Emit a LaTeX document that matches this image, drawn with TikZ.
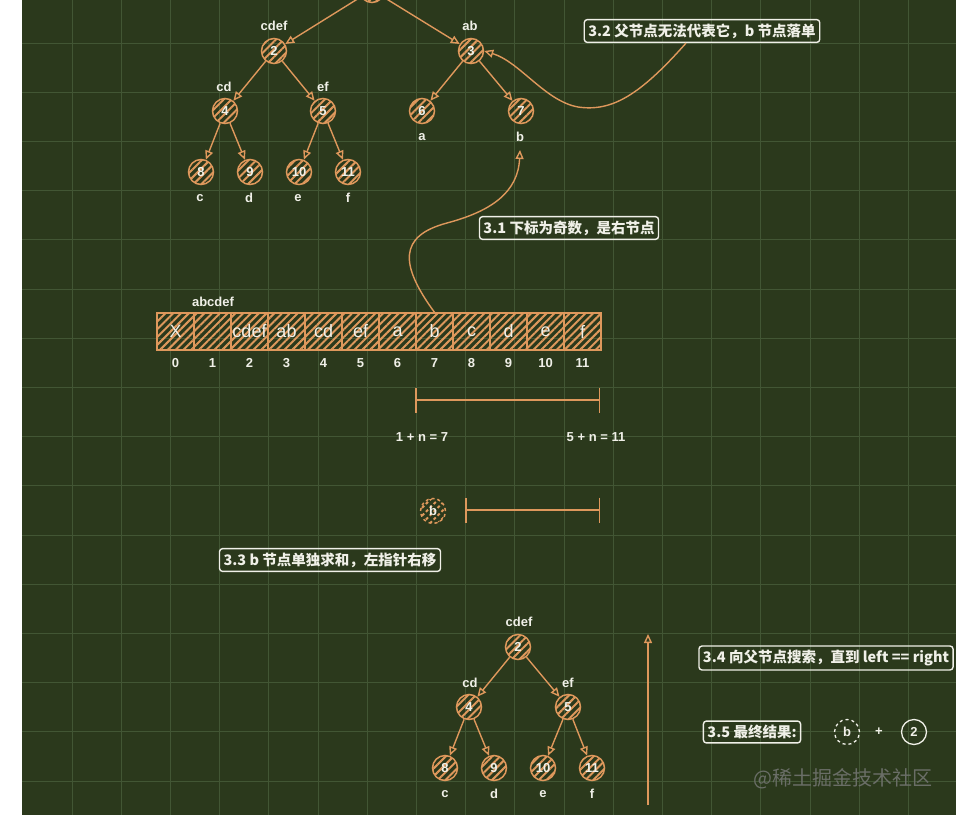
\documentclass[tikz,border=0pt]{standalone}
\usepackage{fontspec}
\setmainfont{Liberation Sans}
\newfontfamily\cjk{Noto Sans CJK SC}
\usetikzlibrary{arrows.meta,patterns.meta}

\definecolor{board}{RGB}{43,57,28}
\definecolor{gridln}{RGB}{66,86,52}
\definecolor{chalk}{RGB}{222,152,92}
\definecolor{paper}{RGB}{240,240,232}

\begin{document}
\begin{tikzpicture}[
        x=1pt, y=-1pt,
        font=\bfseries\fontsize{13}{15}\selectfont,
        hatch/.style={pattern={Lines[angle=45,distance=5.5pt,line width=2pt]}, pattern color=chalk},
        tnode/.style={circle, draw=chalk, line width=1.5pt, minimum size=25pt, inner sep=0pt, hatch, text=paper},
        ring/.style={circle, draw=paper, line width=1.3pt, minimum size=25pt, inner sep=0pt, text=paper},
        tag/.style={text=paper, inner sep=1pt},
        cell/.style={draw=chalk, line width=1.3pt, minimum width=37pt, minimum height=37pt, inner sep=0pt, hatch, text=paper, font=\fontsize{18}{20}\selectfont},
        notebox/.style={draw=paper, line width=1.4pt, rounded corners=3pt, text=paper, inner sep=4pt, font=\cjk\bfseries\fontsize{14.5}{16}\selectfont},
        edge/.style={draw=chalk, line width=1.4pt, -{Triangle[open,length=9pt,width=8pt]}},
        span/.style={draw=chalk, line width=1.5pt, {Bar[width=25pt]}-{Bar[width=25pt]}}
    ]
        \useasboundingbox (0,0) rectangle (965,821);
        \clip (0,0) rectangle (965,821);
        \fill[white] (0,0) rectangle (965,821);
        \fill[board] (22,0) rectangle (956,815);
        \foreach \gx in {0,...,17}
            \draw[gridln, line width=0.8pt] (72+49.2*\gx,0) -- (72+49.2*\gx,815);
        \foreach \gy in {0,...,15}
            \draw[gridln, line width=0.8pt] (22,43+49.2*\gy) -- (956,43+49.2*\gy);

        % top tree
        \node[tnode] (t1) at (372,-10) {};
        \node[tnode] (t2) at (274,51) {2};
        \node[tnode] (t3) at (471,51) {3};
        \node[tnode] (t4) at (225,111) {4};
        \node[tnode] (t5) at (323,111) {5};
        \node[tnode] (t6) at (422,111) {6};
        \node[tnode] (t7) at (521,111) {7};
        \node[tnode] (t8) at (201,172) {8};
        \node[tnode] (t9) at (250,172) {9};
        \node[tnode] (t10) at (299,172) {10};
        \node[tnode] (t11) at (348,172) {11};

        \node[tag] (l2) at (274,26) {cdef};
        \node[tag] (l3) at (470,26) {ab};
        \node[tag] (l4) at (224,87) {cd};
        \node[tag] (l5) at (323,87) {ef};
        \node[tag] (l6) at (422,137) {a};
        \node[tag] (l7) at (520,137) {b};
        \node[tag] (l8) at (200,198) {c};
        \node[tag] (l9) at (249,198) {d};
        \node[tag] (l10) at (298,198) {e};
        \node[tag] (l11) at (348,198) {f};

        \draw[edge] (t1) -- (t2);
        \draw[edge] (t1) -- (t3);
        \draw[edge] (t2) -- (t4);
        \draw[edge] (t2) -- (t5);
        \draw[edge] (t3) -- (t6);
        \draw[edge] (t3) -- (t7);
        \draw[edge] (t4) -- (t8);
        \draw[edge] (t4) -- (t9);
        \draw[edge] (t5) -- (t10);
        \draw[edge] (t5) -- (t11);

        \node[notebox] (n32) at (702,31) {3.2 父节点无法代表它，b 节点落单};
        \draw[edge] ([xshift=-16pt]n32.south) .. controls (640,95) and (612,112) .. (578,107)
            .. controls (545,101) and (520,62) .. (t3.east);

        % array
        \foreach \t [count=\i from 0] in {X,{},cdef,ab,cd,ef,a,b,c,d,e,f} {
            \node[cell] (c\i) at (175.5+37*\i,331.5) {\t};
            \node[tag] (i\i) at (175.5+37*\i,363) {\i};
        }
        \node[tag] (lall) at (213,302) {abcdef};

        \node[notebox] (n31) at (569,228) {3.1 下标为奇数，是右节点};
        \draw[edge] (c7.north) .. controls (400,265) and (398,236) .. (447,223)
            .. controls (492,211) and (518,192) .. ([yshift=-7pt]l7.south);

        % ranges
        \coordinate (s1) at (415,400);
        \coordinate (e1) at (600,400);
        \draw[span] (s1) -- (e1);
        \node[tag] (f1) at (422,437) {1 + n = 7};
        \node[tag] (f2) at (596,437) {5 + n = 11};

        \node[tnode, dashed] (bb) at (433,511) {b};
        \coordinate (s2) at (465,510);
        \coordinate (e2) at (600,510);
        \draw[span] (s2) -- (e2);

        \node[notebox] (n33) at (330,560) {3.3 b 节点单独求和，左指针右移};

        % bottom tree
        \node[tnode] (u2) at (518,647) {2};
        \node[tnode] (u4) at (469,707) {4};
        \node[tnode] (u5) at (568,707) {5};
        \node[tnode] (u8) at (445,768) {8};
        \node[tnode] (u9) at (494,768) {9};
        \node[tnode] (u10) at (543,768) {10};
        \node[tnode] (u11) at (592,768) {11};

        \node[tag] (m2) at (519,622) {cdef};
        \node[tag] (m4) at (470,683) {cd};
        \node[tag] (m5) at (568,683) {ef};
        \node[tag] (m8) at (445,794) {c};
        \node[tag] (m9) at (494,794) {d};
        \node[tag] (m10) at (543,794) {e};
        \node[tag] (m11) at (592,794) {f};

        \draw[edge] (u2) -- (u4);
        \draw[edge] (u2) -- (u5);
        \draw[edge] (u4) -- (u8);
        \draw[edge] (u4) -- (u9);
        \draw[edge] (u5) -- (u10);
        \draw[edge] (u5) -- (u11);

        \coordinate (up0) at (648,805);
        \coordinate (up1) at (648,634);
        \draw[edge] (up0) -- (up1);

        \node[notebox] (n34) at (826,658) {3.4 向父节点搜索，直到 left == right};
        \node[notebox] (n35) at (752,732) {3.5 最终结果:};
        \node[ring, dashed] (rb) at (847,732) {b};
        \node[tag] (plus) at (879,732) {+};
        \node[ring] (r2) at (914,732) {2};

        \node[text=gray!75!board, font=\cjk\fontsize{20}{22}\selectfont] (mark) at (843,779) {@稀土掘金技术社区};
    \end{tikzpicture}
\end{document}
